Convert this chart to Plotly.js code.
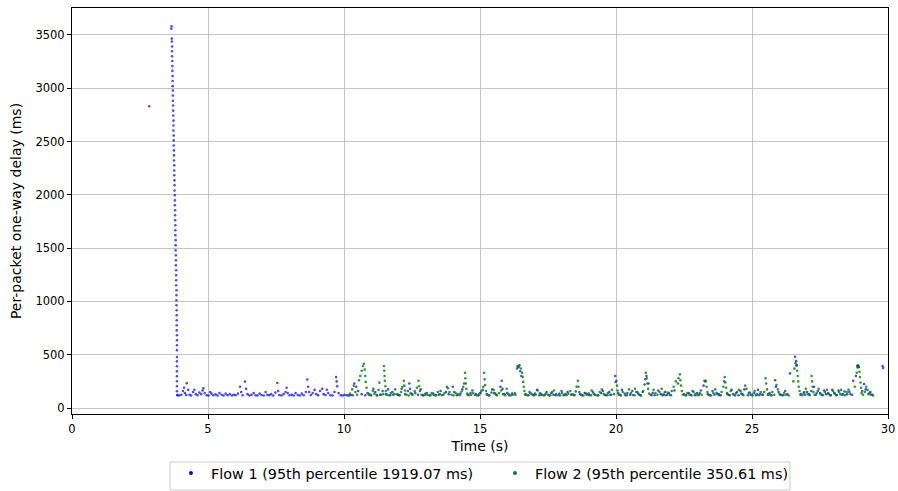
<!DOCTYPE html>
<html>
<head>
<meta charset="utf-8">
<script src="https://cdn.plot.ly/plotly-3.0.1.min.js"></script>
<style>html,body{margin:0;padding:0;background:#fff;}#chart{width:898px;height:491px;}</style>
</head>
<body>
<div id="chart"></div>
<script>
// ---- Data ----
const flow1Name = "Flow 1 (95th percentile 1919.07 ms)";
const flow2Name = "Flow 2 (95th percentile 350.61 ms)";
const xTicks = [0, 5, 10, 15, 20, 25, 30];
const yTicks = [0, 500, 1000, 1500, 2000, 2500, 3000, 3500];

// Flow 1: isolated early packet
const flow1Early = [[2.84, 2831]];

// Flow 1: steep drop around 3.7 s
const rampTime = [3.66,3.65,3.67,3.67,3.68,3.68,3.68,3.69,3.69,3.69,
  3.70,3.70,3.70,3.71,3.71,3.71,3.72,3.72,3.72,3.73,
  3.73,3.73,3.74,3.74,3.74,3.75,3.75,3.75,3.76,3.76,
  3.76,3.77,3.77,3.77,3.78,3.78,3.78,3.79,3.79,3.79,
  3.80,3.80,3.80,3.81,3.81,3.81,3.82,3.82,3.82,3.83,
  3.83,3.83,3.83,3.84,3.84,3.84,3.84,3.85,3.85,3.85,
  3.85,3.85,3.86,3.86,3.86,3.86,3.86,3.86,3.86,3.86,
  3.86,3.86,3.86,3.86,3.87];
const rampDelay = [3581,3559,3466,3438,3392,3347,3300,3256,3208,3163,
  3114,3068,3020,2978,2931,2883,2838,2790,2744,2696,
  2650,2603,2556,2511,2463,2417,2370,2322,2277,2229,
  2183,2136,2090,2041,1996,1948,1903,1855,1808,1762,
  1715,1668,1621,1575,1528,1480,1433,1387,1340,1292,
  1246,1199,1152,1105,1058,1011,964,918,871,823,
  777,729,683,636,589,543,478,438,392,345,
  298,251,205,158,122];

// Flow 1: steady-state packets [time s, delay ms]
const flow1Points = [
 [3.88,120],[3.95,118],[4.02,125],[4.08,160],[4.12,190],[4.15,140],[4.2,122],[4.22,232],[4.27,170],[4.32,125],
 [4.38,118],[4.45,150],[4.5,172],[4.55,130],[4.62,120],[4.68,145],[4.75,130],[4.8,165],[4.83,185],[4.88,140],
 [4.95,120],[5.02,118],[5.08,150],[5.13,135],[5.2,120],[5.28,128],[5.35,118],[5.42,140],[5.5,125],[5.57,118],
 [5.65,135],[5.72,120],[5.8,130],[5.88,118],[5.95,125],[6.02,120],[6.1,135],[6.18,200],[6.22,150],[6.27,120],
 [6.36,248],[6.4,180],[6.45,130],[6.52,118],[6.6,125],[6.68,140],[6.75,120],[6.82,118],[6.9,135],[6.97,122],
 [7.05,118],[7.12,150],[7.18,125],[7.25,120],[7.32,130],[7.4,118],[7.48,145],[7.55,235],[7.58,160],[7.62,122],
 [7.7,118],[7.78,130],[7.85,150],[7.89,190],[7.93,140],[8.0,120],[8.08,125],[8.15,118],[8.22,140],[8.3,122],
 [8.38,118],[8.45,135],[8.52,120],[8.6,150],[8.65,268],[8.68,200],[8.72,150],[8.78,122],[8.85,140],[8.92,170],
 [8.98,130],[9.05,120],[9.12,160],[9.2,180],[9.25,130],[9.32,122],[9.37,172],[9.42,140],[9.5,120],[9.58,118],
 [9.65,150],[9.71,290],[9.73,250],[9.75,205],[9.8,140],[9.88,120],[9.95,118],[10.02,125],[10.1,120],[10.18,118],
 [10.25,122],[10.32,120],[10.38,230],[10.45,200],[10.52,160],[10.65,130],[10.78,120],[10.9,135],[10.98,125],[11.08,180],
 [11.15,150],[11.22,118],[11.33,125],[11.42,160],[11.55,130],[11.62,175],[11.7,120],[11.78,150],[11.85,130],[11.98,125],
 [12.05,120],[12.12,180],[12.25,130],[12.35,160],[12.4,230],[12.43,180],[12.5,130],[12.62,140],[12.72,125],[12.82,175],
 [12.9,120],[12.98,125],[13.05,140],[13.18,120],[13.28,135],[13.35,120],[13.48,125],[13.55,160],[13.65,125],[13.75,150],
 [13.85,130],[14.0,200],[14.05,150],[14.15,120],[14.28,135],[14.35,175],[14.42,230],[14.55,125],[14.65,140],[14.72,165],
 [14.85,130],[14.95,120],[15.02,140],[15.1,170],[15.25,130],[15.32,120],[15.45,175],[15.52,140],[15.6,125],[15.75,200],
 [15.8,255],[15.83,180],[15.9,130],[16.0,140],[16.08,120],[16.18,135],[16.3,125],[16.4,385],[16.45,400],[16.48,345],
 [16.52,300],[16.68,130],[16.78,120],[16.85,140],[16.95,125],[17.02,135],[17.1,170],[17.18,120],[17.25,130],[17.38,125],
 [17.45,150],[17.55,118],[17.62,140],[17.7,125],[17.78,120],[17.92,135],[18.0,160],[18.08,120],[18.15,130],[18.22,150],
 [18.35,125],[18.45,120],[18.52,155],[18.68,130],[18.75,120],[18.85,140],[18.92,125],[19.0,135],[19.08,120],[19.15,150],
 [19.22,125],[19.35,120],[19.45,140],[19.52,160],[19.6,125],[19.68,120],[19.75,150],[19.82,125],[19.97,300],[19.99,245],
 [20.08,140],[20.15,125],[20.22,170],[20.35,120],[20.42,140],[20.52,125],[20.6,160],[20.68,120],[20.75,150],[20.82,135],
 [20.9,120],[20.98,150],[21.08,270],[21.12,300],[21.2,230],[21.28,125],[21.35,140],[21.42,120],[21.55,165],[21.65,130],
 [21.72,120],[21.8,150],[21.88,125],[21.95,140],[22.02,120],[22.15,165],[22.28,230],[22.5,130],[22.58,120],[22.68,140],
 [22.75,125],[22.82,160],[22.9,120],[22.98,140],[23.05,125],[23.12,165],[23.22,210],[23.28,250],[23.38,130],[23.45,120],
 [23.55,160],[23.62,125],[23.7,140],[23.78,130],[23.85,120],[23.98,250],[24.1,130],[24.18,120],[24.25,170],[24.35,125],
 [24.42,140],[24.5,120],[24.58,160],[24.65,130],[24.72,175],[24.85,120],[24.92,145],[25.0,125],[25.08,140],[25.15,120],
 [25.22,170],[25.3,130],[25.38,125],[25.45,150],[25.58,125],[25.65,140],[25.72,120],[25.85,260],[25.88,200],[25.98,150],
 [26.05,125],[26.15,120],[26.22,160],[26.3,130],[26.4,325],[26.58,480],[26.62,440],[26.65,400],[26.8,130],[26.9,140],
 [26.95,125],[27.02,150],[27.1,130],[27.18,160],[27.28,200],[27.35,125],[27.42,160],[27.5,140],[27.58,125],[27.65,165],
 [27.72,130],[27.8,140],[27.88,120],[27.95,170],[28.02,140],[28.1,120],[28.18,165],[28.25,130],[28.32,125],[28.4,155],
 [28.5,130],[28.58,150],[28.68,125],[28.72,255],[28.82,300],[28.87,395],[28.9,400],[28.93,385],[29.05,160],[29.12,225],
 [29.18,175],[29.28,130],[29.35,150],[29.42,125],[29.8,395],[29.82,375]
];

// Flow 2 packets [time s, delay ms]
const flow2Points = [
 [10.15,120],[10.22,135],[10.3,175],[10.36,210],[10.42,150],[10.48,125],[10.55,260],[10.6,300],[10.65,350],[10.7,395],
 [10.73,415],[10.76,360],[10.78,300],[10.8,245],[10.83,190],[10.86,140],[10.92,122],[11.0,118],[11.06,160],[11.12,135],
 [11.2,122],[11.27,170],[11.3,238],[11.36,125],[11.44,130],[11.47,395],[11.48,350],[11.49,300],[11.5,255],[11.52,205],
 [11.54,160],[11.57,125],[11.65,120],[11.72,140],[11.8,125],[11.88,175],[11.95,130],[12.02,120],[12.1,150],[12.15,200],
 [12.2,255],[12.22,210],[12.24,165],[12.3,125],[12.38,118],[12.45,140],[12.52,125],[12.6,160],[12.68,190],[12.74,255],
 [12.76,205],[12.79,160],[12.85,125],[12.92,118],[13.0,135],[13.08,122],[13.15,118],[13.22,140],[13.3,125],[13.38,120],
 [13.45,150],[13.52,130],[13.6,120],[13.7,140],[13.78,200],[13.82,185],[13.88,150],[13.95,125],[14.02,120],[14.1,140],
 [14.18,130],[14.25,120],[14.32,155],[14.38,200],[14.45,330],[14.46,280],[14.48,230],[14.5,180],[14.53,135],[14.6,120],
 [14.68,125],[14.75,140],[14.82,122],[14.9,118],[14.98,135],[15.05,160],[15.12,200],[15.15,330],[15.17,270],[15.19,215],
 [15.22,160],[15.28,125],[15.35,118],[15.42,145],[15.5,170],[15.56,135],[15.62,120],[15.7,140],[15.78,165],[15.85,130],
 [15.92,120],[15.98,180],[16.05,130],[16.12,118],[16.2,125],[16.28,140],[16.36,370],[16.38,395],[16.42,385],[16.5,370],
 [16.55,330],[16.57,290],[16.59,245],[16.61,200],[16.63,160],[16.66,125],[16.75,120],[16.82,150],[16.9,130],[16.98,118],
 [17.05,125],[17.12,165],[17.2,140],[17.28,122],[17.35,118],[17.42,135],[17.5,125],[17.58,120],[17.65,150],[17.72,165],
 [17.8,130],[17.88,120],[17.95,118],[18.02,140],[18.1,125],[18.18,120],[18.25,135],[18.32,160],[18.4,130],[18.48,122],
 [18.55,200],[18.6,255],[18.62,200],[18.65,150],[18.72,125],[18.8,118],[18.88,140],[18.95,130],[19.02,120],[19.1,165],
 [19.18,135],[19.25,122],[19.32,118],[19.4,150],[19.48,175],[19.55,130],[19.62,120],[19.7,140],[19.78,125],[19.85,170],
 [19.92,130],[20.02,255],[20.04,210],[20.06,165],[20.1,125],[20.18,118],[20.25,150],[20.32,135],[20.4,120],[20.48,175],
 [20.55,140],[20.62,122],[20.7,180],[20.78,150],[20.85,125],[20.92,118],[21.0,160],[21.05,220],[21.1,330],[21.13,280],
 [21.15,230],[21.18,180],[21.22,135],[21.3,120],[21.38,170],[21.45,140],[21.52,125],[21.6,150],[21.68,180],[21.75,130],
 [21.82,120],[21.9,145],[21.98,122],[22.05,160],[22.12,200],[22.2,250],[22.3,280],[22.35,316],[22.37,260],[22.39,210],
 [22.42,160],[22.46,125],[22.55,120],[22.62,140],[22.7,125],[22.78,118],[22.85,150],[22.92,130],[23.0,120],[23.08,140],
 [23.15,125],[23.25,255],[23.3,255],[23.33,200],[23.36,150],[23.42,122],[23.5,118],[23.58,140],[23.65,175],[23.72,130],
 [23.8,120],[23.88,150],[23.95,200],[24.0,290],[24.02,240],[24.05,190],[24.08,140],[24.15,122],[24.22,160],[24.3,130],
 [24.38,118],[24.45,150],[24.52,170],[24.6,135],[24.68,120],[24.75,210],[24.8,180],[24.88,140],[24.95,125],[25.02,118],
 [25.1,160],[25.18,130],[25.25,120],[25.32,150],[25.4,125],[25.5,280],[25.52,230],[25.55,175],[25.6,130],[25.68,120],
 [25.75,150],[25.82,125],[25.9,215],[25.95,175],[26.02,130],[26.1,120],[26.18,140],[26.25,125],[26.35,118],[26.52,250],
 [26.56,370],[26.6,420],[26.63,400],[26.66,350],[26.68,300],[26.7,250],[26.72,200],[26.75,160],[26.78,125],[26.85,120],
 [26.92,150],[26.98,180],[27.05,130],[27.12,120],[27.19,300],[27.21,250],[27.23,200],[27.26,150],[27.3,125],[27.38,140],
 [27.45,180],[27.52,130],[27.6,120],[27.68,150],[27.75,170],[27.82,130],[27.9,120],[27.98,160],[28.05,135],[28.12,122],
 [28.2,150],[28.28,170],[28.35,130],[28.42,120],[28.48,150],[28.55,170],[28.62,130],[28.78,200],[28.85,330],[28.88,380],
 [28.92,385],[28.95,340],[28.97,290],[28.99,240],[29.01,190],[29.03,140],[29.08,125],[29.15,150],[29.2,200],[29.25,170],
 [29.32,140],[29.38,125],[29.45,118]
];

// ---- Build traces ----
const f1x = flow1Early.map(p => p[0]).concat(rampTime, flow1Points.map(p => p[0]));
const f1y = flow1Early.map(p => p[1]).concat(rampDelay, flow1Points.map(p => p[1]));
const f2x = flow2Points.map(p => p[0]);
const f2y = flow2Points.map(p => p[1]);

const traces = [
  {x: f1x, y: f1y, type: 'scatter', mode: 'markers', name: flow1Name, legendgroup: 'f1', showlegend: false,
   marker: {color: '#0000ff', size: 2.6, opacity: 0.7, line: {width: 0}}},
  {x: f2x, y: f2y, type: 'scatter', mode: 'markers', name: flow2Name, legendgroup: 'f2', showlegend: false,
   marker: {color: '#008000', size: 2.6, opacity: 0.8, line: {width: 0}}},
  // legend-only entries (no data) so the legend symbols are a little larger
  {x: [null], y: [null], type: 'scatter', mode: 'markers', name: flow1Name, legendgroup: 'f1',
   marker: {color: '#0000ff', size: 4}},
  {x: [null], y: [null], type: 'scatter', mode: 'markers', name: flow2Name, legendgroup: 'f2',
   marker: {color: '#008000', size: 4}}
];

const axisCommon = {
  showgrid: true, gridcolor: '#c4c4c4', gridwidth: 1,
  showline: true, mirror: true, linecolor: '#000000', linewidth: 1,
  ticks: 'outside', ticklen: 4, tickcolor: '#000000', tickwidth: 1,
  zeroline: false, automargin: false,
  tickfont: {family: 'DejaVu Sans', size: 11.5, color: '#000000'}
};

const layout = {
  width: 898, height: 491,
  margin: {l: 72, r: 10, t: 8, b: 77},
  paper_bgcolor: '#ffffff', plot_bgcolor: '#ffffff',
  font: {family: 'DejaVu Sans', color: '#000000'},
  showlegend: true,
  xaxis: Object.assign({}, axisCommon, {
    range: [0, 30], tickmode: 'array', tickvals: xTicks, ticktext: xTicks.map(String),
    title: {text: 'Time (s)', font: {family: 'DejaVu Sans', size: 14, color: '#000000'}, standoff: 6}
  }),
  yaxis: Object.assign({}, axisCommon, {
    range: [-56, 3753], tickmode: 'array', tickvals: yTicks, ticktext: yTicks.map(String),
    title: {text: 'Per-packet one-way delay (ms)', font: {family: 'DejaVu Sans', size: 14, color: '#000000'}, standoff: 10}
  }),
  // legend frame (matplotlib-style box below the axes)
  shapes: [{
    type: 'rect', xref: 'paper', yref: 'paper',
    x0: 0.1201, x1: 0.8799, y0: -0.1872, y1: -0.1182,
    line: {color: '#cccccc', width: 1}, fillcolor: '#ffffff', layer: 'below'
  }],
  legend: {
    orientation: 'h', x: 0.1213, xanchor: 'left', xref: 'paper',
    y: 0.0692, yanchor: 'top', yref: 'container',
    borderwidth: 0, bgcolor: 'rgba(0,0,0,0)',
    font: {family: 'DejaVu Sans', size: 14.4, color: '#000000'},
    entrywidth: 279, entrywidthmode: 'pixels'
  }
};

Plotly.newPlot('chart', traces, layout, {displayModeBar: false, staticPlot: true});
</script>
</body>
</html>
